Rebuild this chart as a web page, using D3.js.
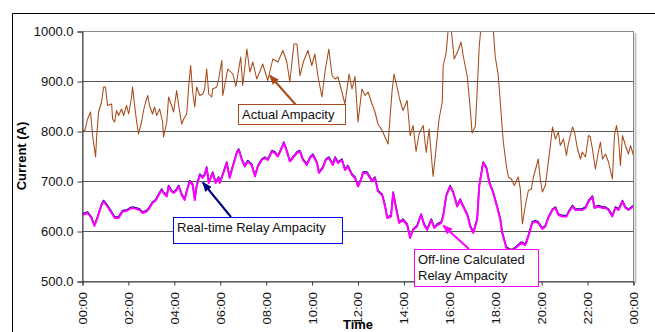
<!DOCTYPE html>
<html>
<head>
<meta charset="utf-8">
<script src="https://cdn.jsdelivr.net/npm/d3@7/dist/d3.min.js"></script>
<style>
  body { margin: 0; background: #fff; }
  svg { display: block; font-family: "Liberation Sans", Arial, sans-serif; }
</style>
</head>
<body>
<script>
// Actual ampacity (hours of day, amps)
const actualHours = [0.00,0.09,0.22,0.35,0.44,0.57,0.61,0.70,0.83,0.92,1.00,1.09,1.27,1.31,1.40,1.48,1.57,1.70,1.79,1.92,
  2.01,2.14,2.18,2.27,2.36,2.44,2.57,2.66,2.75,2.84,2.92,3.05,3.14,3.23,3.36,3.49,3.53,3.67,3.75,3.88,
  3.97,4.10,4.19,4.32,4.41,4.54,4.63,4.71,4.80,4.89,4.97,5.11,5.24,5.32,5.41,5.50,5.63,5.67,5.85,5.93,
  6.07,6.11,6.33,6.55,6.68,6.76,6.89,6.98,7.16,7.29,7.42,7.59,7.72,7.85,8.07,8.29,8.51,8.73,8.90,9.03,
  9.21,9.34,9.47,9.64,9.82,9.99,10.12,10.25,10.43,10.56,10.73,10.87,11.00,11.13,11.30,11.43,11.61,11.74,11.87,12.00,
  12.17,12.31,12.44,12.61,12.74,12.87,13.05,13.31,13.48,13.57,13.70,13.83,13.96,14.14,14.27,14.40,14.53,14.66,14.84,14.97,
  15.10,15.27,15.40,15.53,15.67,15.71,15.84,15.93,16.06,16.19,16.36,16.49,16.58,16.76,16.89,16.97,17.11,17.19,17.28,17.37,
  17.59,17.76,17.89,17.98,18.11,18.24,18.33,18.46,18.55,18.68,18.81,18.98,19.07,19.16,19.29,19.42,19.55,19.64,19.72,19.85,
  19.94,20.03,20.16,20.29,20.38,20.47,20.60,20.73,20.81,20.95,21.08,21.16,21.34,21.43,21.56,21.69,21.77,21.91,22.04,22.12,
  22.21,22.34,22.47,22.56,22.65,22.78,22.91,23.08,23.17,23.26,23.35,23.43,23.52,23.65,23.78,23.87,24.00];
const actualAmps = [805,800,825,839,792,749,785,839,859,889,889,852,855,825,819,842,832,845,832,852,
  835,869,889,852,819,795,819,842,859,872,852,835,849,832,845,819,789,819,869,852,
  839,882,852,815,825,835,892,932,879,849,889,872,875,885,925,875,869,885,889,905,
  942,872,925,915,890,912,949,892,965,919,939,905,919,935,902,945,939,962,939,899,
  975,975,912,942,962,932,955,912,869,919,965,912,905,909,879,855,915,885,910,819,
  885,872,879,855,839,815,802,775,879,915,889,862,842,862,792,812,760,795,812,758,
  805,710,765,825,859,932,957,1005,1005,945,962,979,952,910,845,797,810,880,970,1015,
  1040,1040,1005,949,912,832,779,732,709,705,692,709,685,615,652,682,685,709,722,745,
  705,679,692,739,772,809,785,799,772,785,752,775,809,799,765,745,759,749,792,789,
  765,725,759,779,745,755,739,705,792,812,785,732,792,772,755,772,752];

// Real-time and off-line relay ampacity share the same sample times
const relayHours = [0.00,0.22,0.39,0.52,0.65,0.83,0.92,1.09,1.27,1.40,1.57,1.75,1.92,2.05,2.18,2.36,2.49,2.62,2.79,2.92,
  3.05,3.19,3.32,3.45,3.53,3.67,3.75,3.88,3.97,4.10,4.19,4.32,4.45,4.54,4.67,4.80,4.89,4.97,5.11,5.24,
  5.32,5.41,5.50,5.67,5.80,5.93,5.98,6.11,6.28,6.41,6.55,6.72,6.81,6.94,7.07,7.20,7.37,7.51,7.64,7.81,
  7.94,8.07,8.25,8.38,8.51,8.68,8.77,8.90,9.03,9.16,9.34,9.47,9.60,9.77,9.91,10.04,10.21,10.30,10.47,10.60,
  10.73,10.91,11.00,11.13,11.30,11.43,11.56,11.74,11.87,12.00,12.13,12.22,12.39,12.61,12.74,12.87,13.05,13.18,13.27,13.44,
  13.53,13.70,13.79,13.96,14.14,14.27,14.40,14.57,14.75,14.88,15.01,15.19,15.32,15.45,15.62,15.71,15.84,16.01,16.15,16.32,
  16.45,16.58,16.76,16.89,17.02,17.19,17.28,17.45,17.59,17.72,17.89,18.07,18.20,18.28,18.46,18.63,18.76,18.94,19.11,19.29,
  19.42,19.59,19.72,19.85,20.03,20.16,20.29,20.47,20.60,20.73,20.90,21.08,21.16,21.34,21.47,21.60,21.77,21.91,22.04,22.21,
  22.30,22.47,22.65,22.78,22.91,23.08,23.21,23.35,23.52,23.65,23.78,24.00];
const realtimeAmps = [635,639,629,613,629,655,662,652,639,629,629,642,643,647,649,647,645,639,642,649,
  659,664,675,685,679,672,692,682,679,685,692,675,665,682,702,695,665,692,715,709,
  715,729,699,719,699,709,699,715,739,709,732,759,765,745,732,742,735,712,732,745,
  749,745,762,759,752,769,779,762,742,749,759,762,745,735,749,755,739,719,729,745,
  749,735,749,739,745,725,732,715,709,692,705,719,719,702,709,682,675,652,629,632,
  679,639,619,625,615,589,605,612,635,615,605,625,609,615,619,632,672,692,679,652,
  665,652,635,612,599,625,692,739,729,699,679,649,625,599,569,564,565,572,579,575,
  592,619,622,619,607,612,629,645,649,635,632,632,639,652,645,645,645,649,662,671,
  649,652,649,649,645,632,649,645,662,649,645,652];
const offlineAmps = [633,637,627,611,627,653,660,650,637,627,627,640,641,645,647,645,643,637,640,647,
  657,662,673,683,677,670,690,680,677,683,690,673,663,680,700,693,663,690,713,707,
  713,727,697,717,697,707,697,713,737,707,730,757,763,743,730,740,733,710,730,743,
  747,743,760,757,750,767,777,760,740,747,757,760,743,733,747,753,737,717,727,743,
  747,733,747,737,743,723,730,713,707,690,703,717,717,700,707,680,673,650,627,630,
  677,637,617,623,613,587,603,610,633,613,603,623,607,613,617,630,670,690,677,650,
  663,650,633,610,597,623,690,737,727,697,677,647,623,597,567,562,563,570,577,573,
  590,617,620,617,605,610,627,643,647,633,630,630,637,650,643,643,643,647,660,669,
  647,650,647,647,643,630,647,643,660,647,643,650];

const xTickHours = [0, 2, 4, 6, 8, 10, 12, 14, 16, 18, 20, 22, 24];
const xTickLabels = ["00:00","02:00","04:00","06:00","08:00","10:00","12:00","14:00","16:00","18:00","20:00","22:00","00:00"];
const yTicks = [500, 600, 700, 800, 900, 1000];

const width = 655, height = 332;
const plot = { left: 82.5, right: 633.5, top: 31.5, bottom: 281.5 };

const x = d3.scaleLinear().domain([0, 24]).range([plot.left, plot.right]);
const y = d3.scaleLinear().domain([500, 1000]).range([plot.bottom, plot.top]);

const svg = d3.select("body").append("svg")
  .attr("width", width)
  .attr("height", height);

const defs = svg.append("defs");
defs.append("clipPath").attr("id", "clip")
  .append("rect")
  .attr("x", plot.left).attr("y", plot.top)
  .attr("width", plot.right - plot.left).attr("height", plot.bottom - plot.top);

// outer chart frame (only top and left edges fall inside the window)
svg.append("path")
  .attr("d", `M12.5,${height}V13.5H${width}`)
  .attr("fill", "none").attr("stroke", "#000").attr("stroke-width", 1);

// plot area border + shadow
svg.append("line")
  .attr("x1", 635.5).attr("x2", 635.5).attr("y1", 33).attr("y2", 283)
  .attr("stroke", "#c4c4c4").attr("stroke-width", 2);
svg.append("rect")
  .attr("x", plot.left).attr("y", plot.top)
  .attr("width", plot.right - plot.left).attr("height", plot.bottom - plot.top)
  .attr("fill", "#fff").attr("stroke", "#8a8a8a");

// gridlines
svg.append("g")
  .selectAll("line")
  .data(yTicks.slice(1, -1))
  .join("line")
  .attr("x1", plot.left).attr("x2", plot.right)
  .attr("y1", d => y(d)).attr("y2", d => y(d))
  .attr("stroke", "#555").attr("stroke-width", 1);

// axes
const gy = svg.append("g")
  .attr("transform", `translate(${plot.left},0)`)
  .call(d3.axisLeft(y).tickValues(yTicks).tickFormat(d3.format(".1f")).tickSizeOuter(0).tickSize(5).tickPadding(4));

const gx = svg.append("g")
  .attr("transform", `translate(0,${plot.bottom})`)
  .call(d3.axisBottom(x).tickValues(xTickHours).tickFormat((d, i) => xTickLabels[i]).tickSizeOuter(0).tickSize(4));

gx.selectAll("text")
  .attr("y", 0).attr("x", -10.5).attr("dy", "0.36em")
  .attr("transform", "rotate(-90) scale(1,0.85)")
  .style("text-anchor", "end");

[gx, gy].forEach(g => {
  g.selectAll("path.domain").attr("stroke", "#3a3a3a");
  g.selectAll(".tick line").attr("stroke", "#3a3a3a");
  g.selectAll("text").attr("fill", "#111").style("font-size", "13px")
    .style("font-family", '"Liberation Sans", Arial, sans-serif');
});

// axis titles
svg.append("text")
  .attr("transform", "translate(26,156) rotate(-90)")
  .attr("text-anchor", "middle")
  .style("font-size", "13px").style("font-weight", "bold")
  .text("Current (A)");
svg.append("text")
  .attr("x", 358).attr("y", 329)
  .attr("text-anchor", "middle")
  .style("font-size", "13px").style("font-weight", "bold")
  .text("Time");

// series
const clipped = svg.append("g").attr("clip-path", "url(#clip)");
const line = d3.line().x(d => x(d[0])).y(d => y(d[1]));

clipped.append("path")
  .attr("d", line(d3.zip(actualHours, actualAmps)))
  .attr("fill", "none").attr("stroke", "#a64a18").attr("stroke-width", 1.05)
  .attr("stroke-linejoin", "round");
clipped.append("path")
  .attr("d", line(d3.zip(relayHours, realtimeAmps)))
  .attr("fill", "none").attr("stroke", "#000080").attr("stroke-width", 1.5)
  .attr("stroke-linejoin", "round");
clipped.append("path")
  .attr("d", line(d3.zip(relayHours, offlineAmps)))
  .attr("fill", "none").attr("stroke", "#ff00ff").attr("stroke-width", 2)
  .attr("stroke-linejoin", "round");

// annotations: box in pixels, arrow tip in data units
const notes = [
  { lines: ["Actual Ampacity"], box: [238.5, 104.5, 107, 20], color: "#a64a18",
    from: [296, 105], tip: [8.16, 912] },
  { lines: ["Real-time Relay Ampacity"], box: [173.5, 217.5, 169, 26], color: "#0000ff", arrow: "#000080",
    from: [231, 217], tip: [5.24, 698] },
  { lines: ["Off-line Calculated", "Relay Ampacity"], box: [414.5, 249.5, 124, 37], color: "#ff00ff",
    from: [469, 249], tip: [15.71, 612] }
];

notes.forEach((n, i) => {
  const c = n.arrow || n.color;
  defs.append("marker")
    .attr("id", "arrow" + i)
    .attr("viewBox", "0 0 10 8")
    .attr("refX", 9).attr("refY", 4)
    .attr("markerWidth", 10).attr("markerHeight", 8)
    .attr("markerUnits", "userSpaceOnUse")
    .attr("orient", "auto")
    .append("path").attr("d", "M0,0L10,4L0,8z").attr("fill", c);

  svg.append("line")
    .attr("x1", n.from[0]).attr("y1", n.from[1])
    .attr("x2", x(n.tip[0])).attr("y2", y(n.tip[1]))
    .attr("stroke", c).attr("stroke-width", 2)
    .attr("marker-end", `url(#arrow${i})`);

  const g = svg.append("g");
  g.append("rect")
    .attr("x", n.box[0]).attr("y", n.box[1])
    .attr("width", n.box[2]).attr("height", n.box[3])
    .attr("fill", "#fff").attr("stroke", n.color).attr("stroke-width", 1);
  g.selectAll("text")
    .data(n.lines)
    .join("text")
    .attr("x", n.box[0] + 3.5)
    .attr("y", (d, j) => n.box[1] + 14 + j * 16)
    .style("font-size", "13px").attr("fill", "#111")
    .text(d => d);
});
</script>
</body>
</html>
